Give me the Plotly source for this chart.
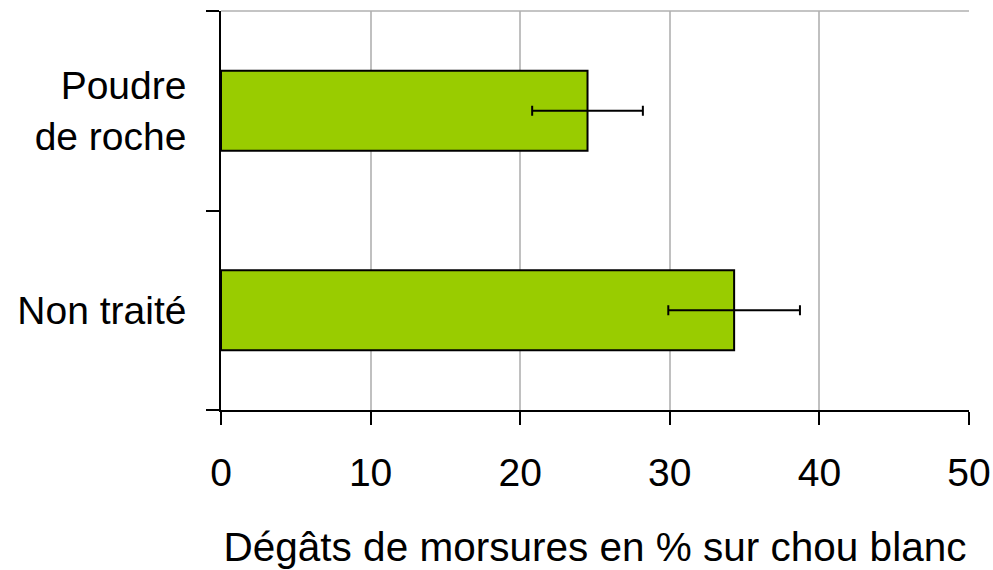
import plotly.graph_objects as go

categories = ["Non traité", "Poudre<br>de roche"]
values = [34.3, 24.5]
errors = [4.4, 3.7]
x_ticks = [0, 10, 20, 30, 40, 50]
x_title = "Dégâts de morsures en % sur chou blanc"

fig = go.Figure()
fig.add_trace(go.Bar(
    y=categories, x=values, orientation="h",
    marker=dict(color="#99CC00", line=dict(color="black", width=2)),
    error_x=dict(type="data", array=errors, visible=True, color="black", thickness=2, width=5),
))

font = dict(family="Liberation Sans, Arial, sans-serif", size=39, color="black")
fig.update_layout(
    width=993, height=570,
    margin=dict(l=221, r=24, t=11, b=160),
    plot_bgcolor="white", paper_bgcolor="white",
    bargap=0.6, showlegend=False, font=font,
    xaxis=dict(range=[0, 50], tickvals=x_ticks, showgrid=True, gridcolor="#c0c0c0", gridwidth=1.5,
               showline=True, linecolor="black", linewidth=1.5, ticks="outside", ticklen=13,
               tickcolor="black", tickwidth=1.5, zeroline=False, automargin=False,
               title=dict(text=x_title, standoff=40, font=dict(size=40.5)), ticklabelstandoff=14),
    yaxis=dict(type="category", tickson="boundaries", showgrid=False, showline=True,
               linecolor="black", linewidth=1.5, ticks="outside", ticklen=13, tickcolor="black",
               tickwidth=1.5, ticklabelstandoff=25, automargin=False),
    shapes=[dict(type="line", xref="paper", yref="paper", x0=0, x1=1, y0=1, y1=1,
                 line=dict(color="#b0b0b0", width=1.5))],
)
fig.write_html("out.html", config={"displayModeBar": False},
               post_script="document.body.style.margin='0';document.body.style.overflow='hidden';")
